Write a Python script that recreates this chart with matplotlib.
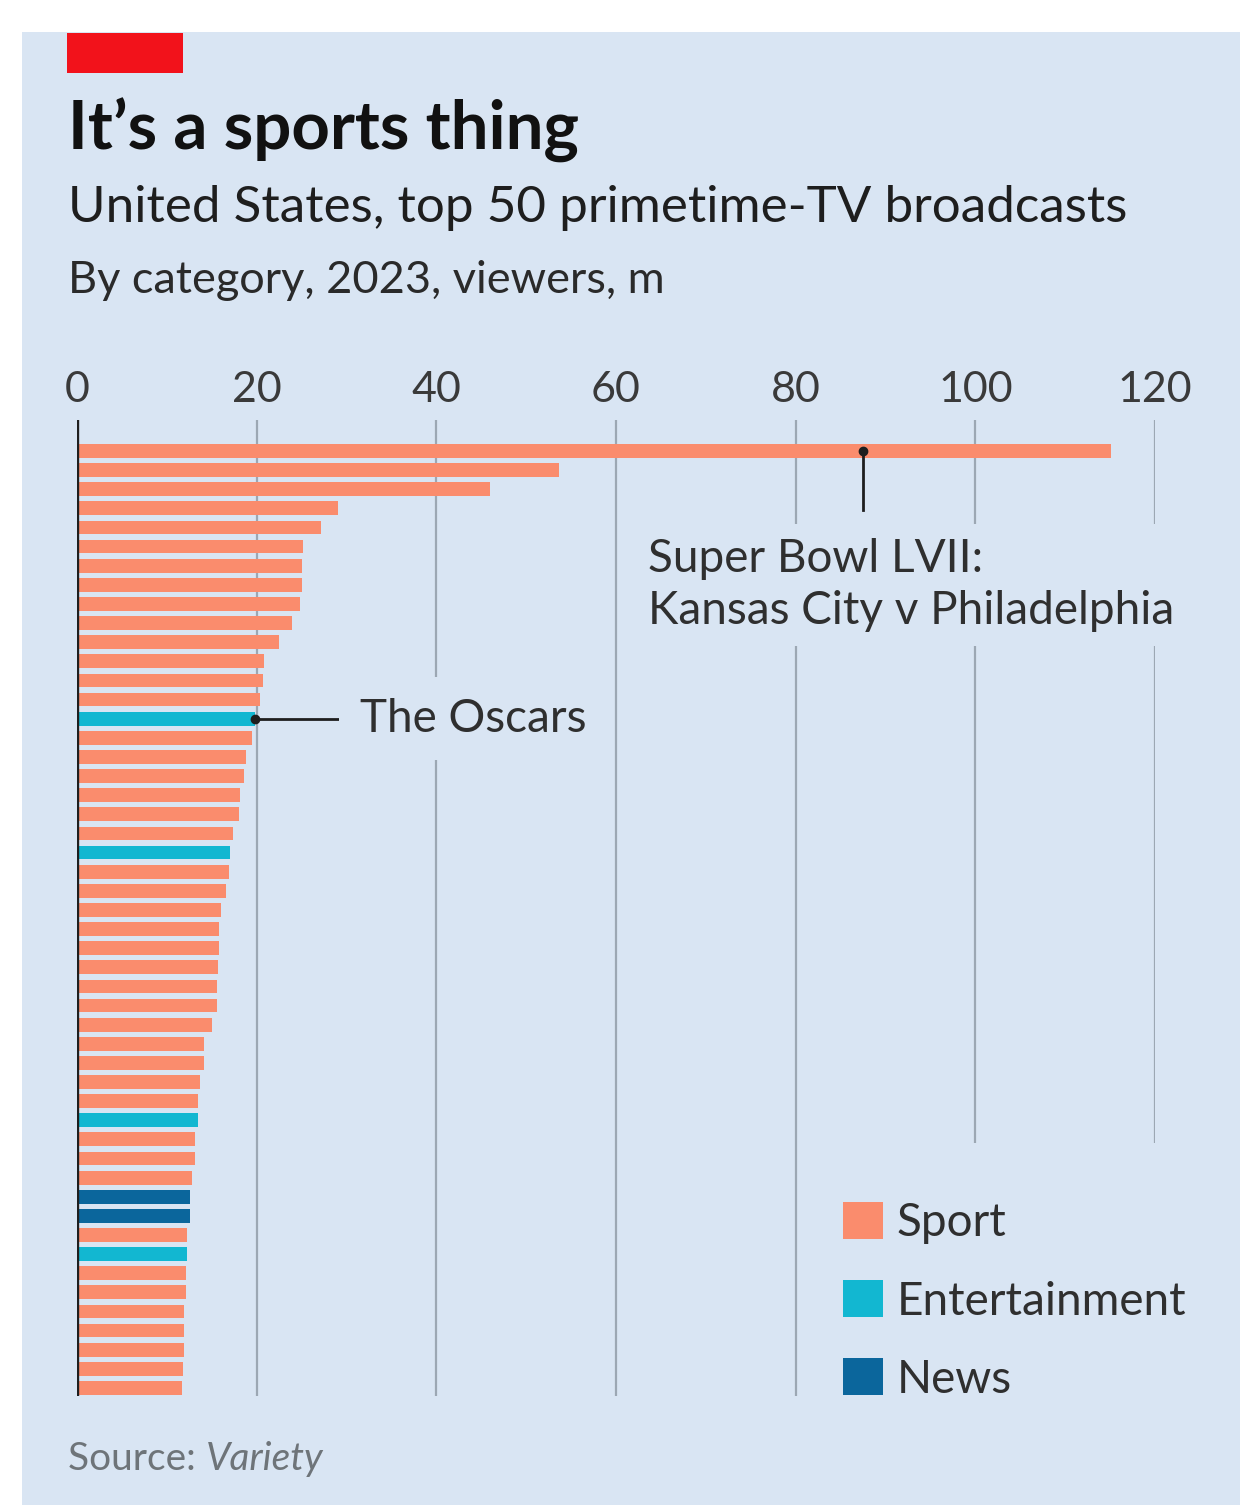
import matplotlib
matplotlib.use("Agg")
import matplotlib.pyplot as plt
from matplotlib.patches import Rectangle, Patch

# Top 50 US primetime broadcasts of 2023, viewers in millions
viewers = [115.1, 53.6, 46.0, 29.0, 27.2, 25.2, 25.1, 25.0, 24.8, 23.9,
           22.5, 20.8, 20.7, 20.4, 19.8, 19.5, 18.8, 18.6, 18.2, 18.0,
           17.4, 17.0, 16.9, 16.6, 16.0, 15.8, 15.8, 15.7, 15.6, 15.6,
           15.0, 14.1, 14.1, 13.7, 13.5, 13.5, 13.1, 13.1, 12.8, 12.6,
           12.6, 12.3, 12.3, 12.1, 12.1, 11.9, 11.9, 11.9, 11.8, 11.7]
categories = ["Sport"] * 50
for i in (14, 21, 35, 42):
    categories[i] = "Entertainment"
for i in (39, 40):
    categories[i] = "News"

category_order = ["Sport", "Entertainment", "News"]
x_ticks = [0, 20, 40, 60, 80, 100, 120]

BG = "#D9E5F3"
COLORS = {"Sport": "#FA8C6D", "Entertainment": "#12B7D1", "News": "#0B669C"}
GRID = "#9CA7B3"
FONT = "Lato"

W, H = 1247, 1505
fig = plt.figure(figsize=(W / 100, H / 100), dpi=100, facecolor="white")

def fx(px):
    return px / W

def fy(px):
    return 1 - px / H

# panel background and red tag
fig.add_artist(Rectangle((fx(22), 0), fx(1240) - fx(22), fy(32),
                         transform=fig.transFigure, color=BG, zorder=0, lw=0))
fig.add_artist(Rectangle((fx(67), fy(73)), fx(183) - fx(67), fy(33) - fy(73),
                         transform=fig.transFigure, color="#F2121B", zorder=1, lw=0))

ax = fig.add_axes([fx(77), fy(1396), fx(1155) - fx(77), fy(420) - fy(1396)])
ax.set_facecolor("none")

ypos = list(range(len(viewers)))
ax.barh(ypos, viewers, height=0.72,
        color=[COLORS[c] for c in categories], zorder=3, lw=0)

ax.set_xlim(0, 120)
ax.set_ylim(49.42, -1.62)
for s in ax.spines.values():
    s.set_visible(False)

for t in x_ticks[1:]:
    ax.axvline(t, color=GRID, lw=1.6, zorder=1)
ax.axvline(0, color="#1E1E1E", lw=2.4, zorder=5)

ax.xaxis.tick_top()
ax.set_xticks(x_ticks)
ax.set_xticklabels([str(t) for t in x_ticks], fontfamily=FONT,
                   fontweight="normal", fontsize=31, color="#3A3A3A")
ax.tick_params(axis="x", length=0, pad=8)
ax.set_yticks([])

# mask behind the legend so the gridlines stop above it
ax.add_patch(Rectangle(((820 - 77) / 1078, -0.01), (1238 - 820) / 1078,
                       (1396 - 1143) / 976 + 0.01,
                       transform=ax.transAxes, color=BG, zorder=2, lw=0,
                       clip_on=False))

ann_kw = dict(fontfamily=FONT, fontsize=33, color="#2F2F2F", zorder=6)

# Super Bowl callout
sb_x = 87.5
ax.plot([sb_x, sb_x], [0, 3.1], color="#1E1E1E", lw=2, zorder=6)
ax.plot([sb_x], [0], "o", color="#1E1E1E", ms=6, zorder=7)
ax.text(63.6, 7.0, "Super Bowl LVII:\nKansas City v Philadelphia",
        va="center", ha="left", linespacing=1.3,
        bbox=dict(boxstyle="square,pad=0.3", fc=BG, ec="none"), **ann_kw)

# Oscars callout
osc = 14
ax.plot([viewers[osc], 29.1], [osc, osc], color="#1E1E1E", lw=2, zorder=6)
ax.plot([viewers[osc]], [osc], "o", color="#1E1E1E", ms=6, zorder=7)
ax.text(31.5, osc, "The Oscars", va="center", ha="left",
        bbox=dict(boxstyle="square,pad=0.45", fc=BG, ec="none"), **ann_kw)

handles = [Patch(facecolor=COLORS[c], edgecolor="none", label=c) for c in category_order]
leg = fig.legend(handles=handles, loc="upper left",
                 bbox_to_anchor=(fx(843), fy(1202)), borderaxespad=0,
                 borderpad=0, frameon=False, handlelength=0.87, handleheight=0.87,
                 handletextpad=0.3, labelspacing=0.78,
                 prop=dict(family=FONT, size=33))
for txt in leg.get_texts():
    txt.set_color("#2F2F2F")

title = fig.text(fx(68), fy(150), "It\u2019s a sports thing", fontfamily=FONT,
                 fontweight="bold", fontsize=36, color="#111111", va="baseline")
sub1 = fig.text(fx(68), fy(222), "United States, top 50 primetime-TV broadcasts",
                fontfamily=FONT, fontsize=32, color="#1E1E1E", va="baseline")
sub2 = fig.text(fx(68), fy(293), "By category, 2023, viewers, m",
                fontfamily=FONT, fontsize=30, color="#2A2A2A", va="baseline")
src1 = fig.text(fx(68), fy(1470), "Source: ", fontfamily=FONT, fontsize=28,
                color="#6E7479", va="baseline")
src2 = fig.text(fx(200), fy(1470), "Variety", fontfamily=FONT, fontsize=28,
                fontstyle="italic", color="#6E7479", va="baseline")

fig.canvas.draw()
renderer = fig.canvas.get_renderer()

def fit(t, target_px):
    w = t.get_window_extent(renderer).width
    t.set_fontsize(t.get_fontsize() * target_px / w)

fit(title, 510)
fit(sub1, 1059)
fit(sub2, 597)
fig.canvas.draw()
ext = src1.get_window_extent(renderer)
src2.set_x(ext.x1 / W)

fig.savefig("out.png", dpi=100, facecolor="white")
